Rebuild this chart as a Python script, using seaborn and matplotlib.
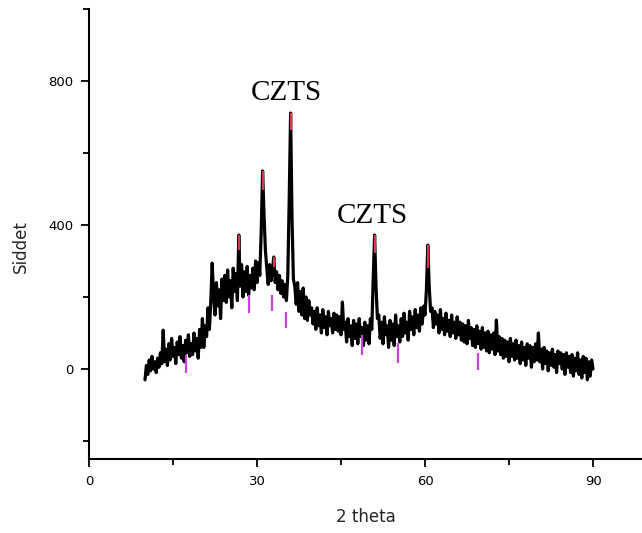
import numpy as np
import pandas as pd
import matplotlib
matplotlib.use("Agg")
import matplotlib.pyplot as plt
import seaborn as sns
from matplotlib.ticker import MultipleLocator

sns.set_style("ticks")
plt.rcParams["font.family"] = ["DejaVu Sans"]

# XRD intensity, scan from 10 to 90 deg in 0.25 deg steps
intensity = [
    -30, 10, -15, 25, -5, 35, 0, 20, -10,            # 10.0 - 12.0
    30, 5, 45, 15, 108, 20, 55, 10,                  # 12.25 - 14.0
    70, 25, 85, 35, 60, 15, 75, 40,                  # 14.25 - 16.0
    90, 30, 65, 20, 80, 45, 95, 35,                  # 16.25 - 18.0
    70, 40, 100, 50, 85, 30, 110, 60,                # 18.25 - 20.0
    140, 60, 120, 90, 170, 110, 190, 294,            # 20.25 - 22.0
    200, 150, 240, 175, 220, 140, 250, 190,          # 22.25 - 24.0
    260, 185, 275, 200, 245, 170, 280, 215, 265, 190,  # 24.25 - 26.5
    372,                                             # 26.75
    230, 290, 200, 270, 215, 285, 205, 260, 225,     # 27.0 - 29.0
    280, 220, 300, 240, 295, 260,                    # 29.25 - 30.5
    380, 550, 430, 330,                              # 30.75 - 31.5
    280, 235, 290, 245, 275, 311, 240, 270,
    220, 260, 210, 245, 200, 235, 190, 260,          # 31.75 - 35.5
    470, 711, 420, 250,                              # 35.75 - 36.5
    230, 180, 240, 160, 215, 150, 225, 140, 200, 135, 190, 150, 170, 125,  # 36.75 - 40.0
    160, 110, 170, 120, 150, 100, 165, 115, 145, 95,
    160, 120, 140, 100, 155, 110, 150, 105, 145, 95,  # 40.25 - 45.0
    186, 110,                                        # 45.25 - 45.5
    130, 75, 140, 90, 120, 65, 135, 85, 125, 70,
    140, 90, 115, 65, 130, 80, 120, 70, 140, 110,    # 45.75 - 50.5
    250, 372, 230, 140,                              # 50.75 - 51.5
    150, 85, 130, 70, 145, 95, 120, 60,
    135, 80, 125, 65, 150, 90, 120, 75,              # 51.75 - 55.5
    140, 90, 155, 100, 130, 80, 160, 110, 145,
    95, 165, 115, 150, 105, 170, 125, 175, 150,      # 55.75 - 60.0
    220, 344, 230, 160,                              # 60.25 - 61.0
    170, 115, 160, 125, 150, 100, 165, 110, 140, 95,
    155, 105, 135, 90, 150, 100, 130, 85, 145, 95,   # 61.25 - 66.0
    130, 80, 125, 75, 120, 70, 135, 85, 115, 65, 110, 60, 120,
    70, 105, 55, 115, 60, 100, 50, 105, 45, 95, 55, 100, 40,  # 66.25 - 72.5
    136, 50,                                         # 72.75 - 73.0
    90, 40, 85, 30, 80, 35, 75, 20, 85, 35, 70, 25, 80, 30,
    65, 15, 75, 25, 60, 10, 70, 30, 65, 5, 60, 20, 70, 25,    # 73.25 - 80.0
    100, 20,                                         # 80.25 - 80.5
    55, 0, 60, 15, 50, -5, 45, 10, 55, 5, 40,
    -10, 50, 15, 45, 0, 40, -15, 45, 5, 35, -10,     # 80.75 - 86.0
    40, -20, 30, -5, 45, -15, 25, -25,
    35, -10, 30, -30, 20, -20, 25, 0,                # 86.25 - 90.0
]
two_theta = 10.0 + 0.25 * np.arange(len(intensity))

# reference sticks (red: on top of peaks, magenta: below the pattern)
red_pos = [26.75, 31.0, 33.0, 36.0, 51.0, 60.5]
red_top = [372, 550, 311, 711, 372, 344]
red_bot = [330, 497, 283, 664, 322, 281]
mag_pos = [17.3, 28.6, 32.7, 35.2, 48.75, 55.2, 69.5]
mag_top = [39, 205, 205, 158, 94, 72, 44]
mag_bot = [-11, 156, 161, 114, 39, 17, -3]

labels = ["CZTS", "CZTS"]
label_x = [35.2, 50.6]
label_y = [768, 424]

x_ticks = [0, 30, 60, 90]
y_ticks = [0, 400, 800]

df = pd.DataFrame({"two_theta": two_theta, "intensity": intensity})

fig = plt.figure(figsize=(6.42, 5.33), dpi=100)
ax = fig.add_axes([89 / 642, (533 - 459) / 533, (642 - 89) / 642, 450 / 533])

sns.lineplot(data=df, x="two_theta", y="intensity", color="black",
             linewidth=2.3, ax=ax, sort=True, estimator=None)

ax.vlines(red_pos, red_bot, red_top, colors="#e0304f", linewidth=1.6, zorder=5)
ax.vlines(mag_pos, mag_bot, mag_top, colors="#c945d8", linewidth=1.6, zorder=5)

for t, xx, yy in zip(labels, label_x, label_y):
    ax.text(xx, yy, t, family="Liberation Serif", fontsize=21,
            ha="center", va="center", color="black")

ax.set_xlim(0, 98.75)
ax.set_ylim(-250, 1000)
ax.set_xticks(x_ticks)
ax.set_yticks(y_ticks)
ax.xaxis.set_minor_locator(MultipleLocator(15))
ax.yaxis.set_minor_locator(MultipleLocator(200))

for side in ["top", "right"]:
    ax.spines[side].set_visible(False)
for side in ["left", "bottom"]:
    ax.spines[side].set_linewidth(1.5)
    ax.spines[side].set_color("black")

ax.tick_params(axis="both", which="major", direction="out", length=6,
               width=1.3, labelsize=9.5, pad=5.5, colors="black")
ax.tick_params(axis="both", which="minor", direction="out", length=4,
               width=1.3, colors="black")

ax.set_xlabel("2 theta", fontsize=12)
ax.set_ylabel("Siddet", fontsize=12)
ax.xaxis.set_label_coords(0.5, -0.109)
ax.yaxis.set_label_coords(-0.107, 0.471)

fig.savefig("out.png", dpi=100)
